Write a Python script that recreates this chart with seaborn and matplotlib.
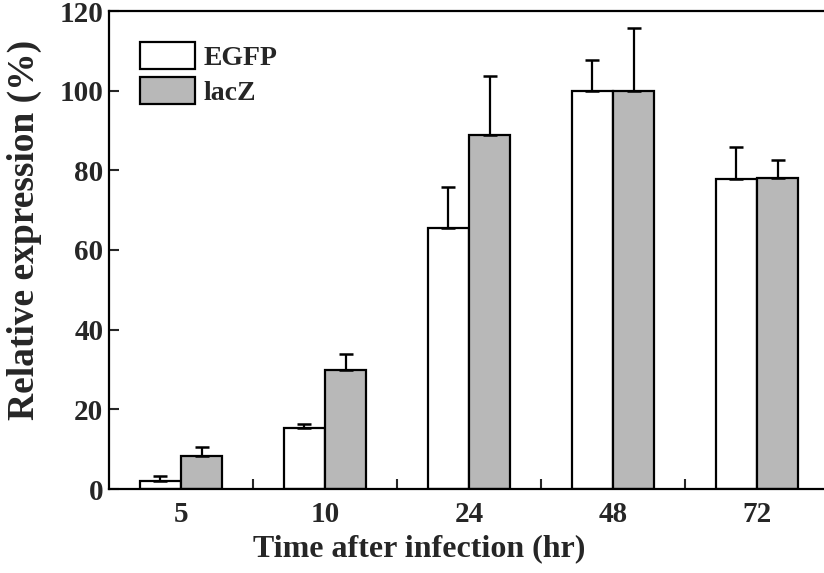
import numpy as np
import pandas as pd
import matplotlib
matplotlib.use("Agg")
import matplotlib.pyplot as plt
from matplotlib.patches import Patch
import seaborn as sns

# values
times = ['5', '10', '24', '48', '72']
egfp = [2.0, 15.4, 65.5, 100.0, 77.8]
egfp_err = [1.3, 0.9, 10.2, 7.8, 8.0]
lacz = [8.3, 30.0, 88.8, 100.0, 78.2]
lacz_err = [2.2, 4.0, 14.8, 15.8, 4.4]
genes = ['EGFP', 'lacZ']
colors = {'EGFP': 'white', 'lacZ': '#b8b8b8'}

sns.set_style('ticks')
plt.rcParams['font.family'] = ['Liberation Serif', 'DejaVu Serif']
plt.rcParams['font.weight'] = 'bold'
plt.rcParams['axes.labelweight'] = 'bold'

df = pd.DataFrame({
    'time': times * 2,
    'value': egfp + lacz,
    'gene': ['EGFP'] * len(times) + ['lacZ'] * len(times),
})

fig = plt.figure(figsize=(8.24, 5.73), dpi=100)
ax = fig.add_axes([109 / 824, 1 - 489 / 573, 720 / 824, 478 / 573])

sns.barplot(data=df, x='time', y='value', hue='gene', order=times, hue_order=genes,
            palette=colors, edgecolor='black', linewidth=1.6, width=0.57, gap=0,
            errorbar=None, legend=False, ax=ax)

# upper-only error bars on each bar
errs = {'EGFP': egfp_err, 'lacZ': lacz_err}
for gene, cont in zip(genes, ax.containers):
    xs = [b.get_x() + b.get_width() / 2 for b in cont]
    ys = [b.get_height() for b in cont]
    ax.errorbar(xs, ys, yerr=[np.zeros(len(xs)), errs[gene]], fmt='none',
                ecolor='black', elinewidth=1.6, capsize=4.8, capthick=1.8, zorder=1)

ax.set_xlim(-0.5, 4.5)
ax.set_ylim(0, 120)
ax.set_yticks(range(0, 121, 20))
ax.set_xticks(range(len(times)))
ax.set_xticklabels(times)
ax.set_xticks([0.5, 1.5, 2.5, 3.5], minor=True)
ax.tick_params(axis='y', direction='in', length=7, width=1.5, labelsize=21, pad=4)
ax.tick_params(axis='x', which='major', length=0, labelsize=21, pad=9)
ax.tick_params(axis='x', which='minor', direction='in', length=7, width=1.5)
for lab in ax.get_xticklabels() + ax.get_yticklabels():
    lab.set_fontweight('bold')

for side in ['left', 'bottom', 'top', 'right']:
    ax.spines[side].set_linewidth(1.6)
    ax.spines[side].set_color('black')

ax.set_xlabel('Time after infection (hr)', fontsize=23, fontweight='bold')
ax.set_ylabel('Relative expression (%)', fontsize=27, fontweight='bold')
ax.xaxis.set_label_coords(0.4306, -0.095)
ax.yaxis.set_label_coords(-0.093, 0.542)

handles = [Patch(facecolor=colors[g], edgecolor='black', linewidth=1.6, label=g) for g in genes]
ax.legend(handles=handles, loc='upper left', bbox_to_anchor=(0.028, 0.958), frameon=False,
          handlelength=1.98, handleheight=1.12, handletextpad=0.3, labelspacing=0.22,
          borderaxespad=0, prop={'family': 'Liberation Serif', 'weight': 'bold', 'size': 20})

fig.savefig('out.png', dpi=100, facecolor='white')
